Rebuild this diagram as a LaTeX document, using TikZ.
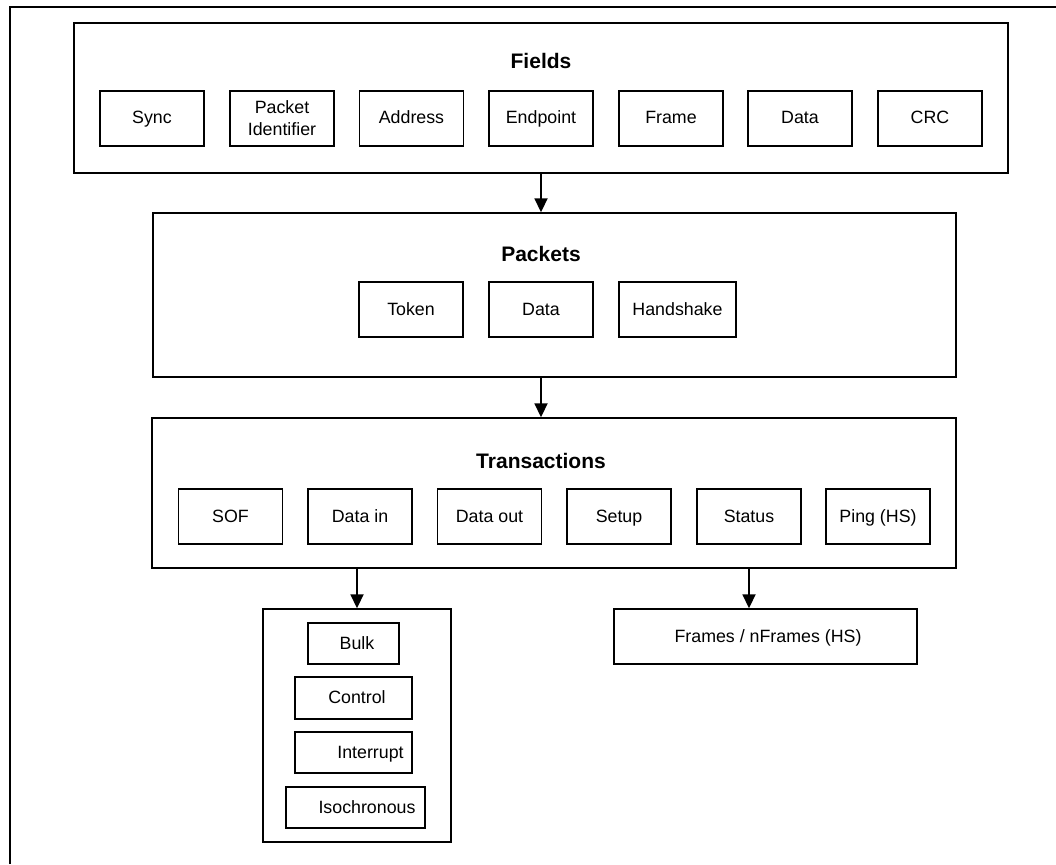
\documentclass[tikz,border=0pt]{standalone}
\usepackage{fontspec}
\setmainfont{Liberation Sans}
\usetikzlibrary{arrows.meta}
\begin{document}
\begin{tikzpicture}[x=1pt,y=-1pt,
  container/.style={draw, line width=1.4pt, rectangle, inner sep=0pt},
  item/.style={draw, line width=1.4pt, rectangle, inner sep=0pt, minimum height=55pt, minimum width=104pt,
    text height=13pt, text depth=2pt, font=\fontsize{17.8}{21}\selectfont},
  twoline/.style={draw, line width=1.4pt, rectangle, inner sep=0pt, minimum height=55pt, minimum width=104pt,
    align=center, font=\fontsize{17.8}{22}\selectfont},
  sub/.style={draw, line width=1.4pt, rectangle, inner sep=0pt, minimum height=41pt,
    text height=13pt, text depth=2pt, font=\fontsize{17.8}{21}\selectfont},
  title/.style={font=\bfseries\fontsize{21}{25}\selectfont, inner sep=0pt, text height=18pt, text depth=2pt},
  flow/.style={line width=1.8pt, -{Triangle[length=14pt,width=13pt]}},
  frameline/.style={line width=2.6pt}
]
\useasboundingbox (0,0) rectangle (1056,864);
% outer frame (left and top edges)
\coordinate (fbl) at (10,864);
\coordinate (ftl) at (10,7);
\coordinate (ftr) at (1056,7);
\draw[frameline] (fbl) -- (ftl) -- (ftr);

% Fields
\node[container, minimum width=934pt, minimum height=150pt] (fields) at (541,98) {};
\node[title] (tfields) at (541,61) {Fields};
\node[item] (sync) at (152,118.5) {Sync};
\node[twoline] (pid) at (282,118.5) {Packet\\Identifier};
\node[item] (addr) at (411.5,118.5) {Address};
\node[item] (endp) at (541,118.5) {Endpoint};
\node[item] (frame) at (671,118.5) {Frame};
\node[item] (fdata) at (800,118.5) {Data};
\node[item] (crc) at (930,118.5) {CRC};

% Packets
\node[container, minimum width=803pt, minimum height=164pt] (packets) at (554.5,295) {};
\node[title] (tpackets) at (541,253) {Packets};
\node[item] (token) at (411,309.5) {Token};
\node[item] (pdata) at (541,309.5) {Data};
\node[item, minimum width=117pt] (hand) at (677.5,309.5) {Handshake};

% Transactions
\node[container, minimum width=804pt, minimum height=150pt] (trans) at (554,493) {};
\node[title] (ttrans) at (541,460) {Transactions};
\node[item] (sof) at (230.5,516.5) {SOF};
\node[item] (din) at (360,516.5) {Data in};
\node[item] (dout) at (489.5,516.5) {Data out};
\node[item] (setup) at (619,516.5) {Setup};
\node[item] (status) at (749,516.5) {Status};
\node[item] (ping) at (878,516.5) {Ping (HS)};

% Transfer types
\node[container, minimum width=188pt, minimum height=233pt] (types) at (357,725.5) {};
\node[sub, minimum width=91pt] (bulk) at (353.5,643.5) {\hspace*{7pt}Bulk};
\node[sub, minimum width=117pt, minimum height=42pt] (control) at (353.5,698) {\hspace*{7pt}Control};
\node[sub, minimum width=117pt] (intr) at (353.5,752.5) {\hspace*{34pt}Interrupt};
\node[sub, minimum width=139pt] (iso) at (355.5,807.5) {\hspace*{23pt}Isochronous};

% Frames
\node[sub, minimum width=303pt, minimum height=55pt] (frames) at (765.5,636.5) {\hspace*{5pt}Frames / nFrames (HS)};

% connectors
\draw[flow] (fields.south) -- (fields.south |- packets.north);
\draw[flow] (packets.south -| fields.south) -- (trans.north -| fields.south);
\draw[flow] (types.north |- trans.south) -- (types.north);
\draw[flow] (status.south |- trans.south) -- (status.south |- frames.north);
\end{tikzpicture}
\end{document}
